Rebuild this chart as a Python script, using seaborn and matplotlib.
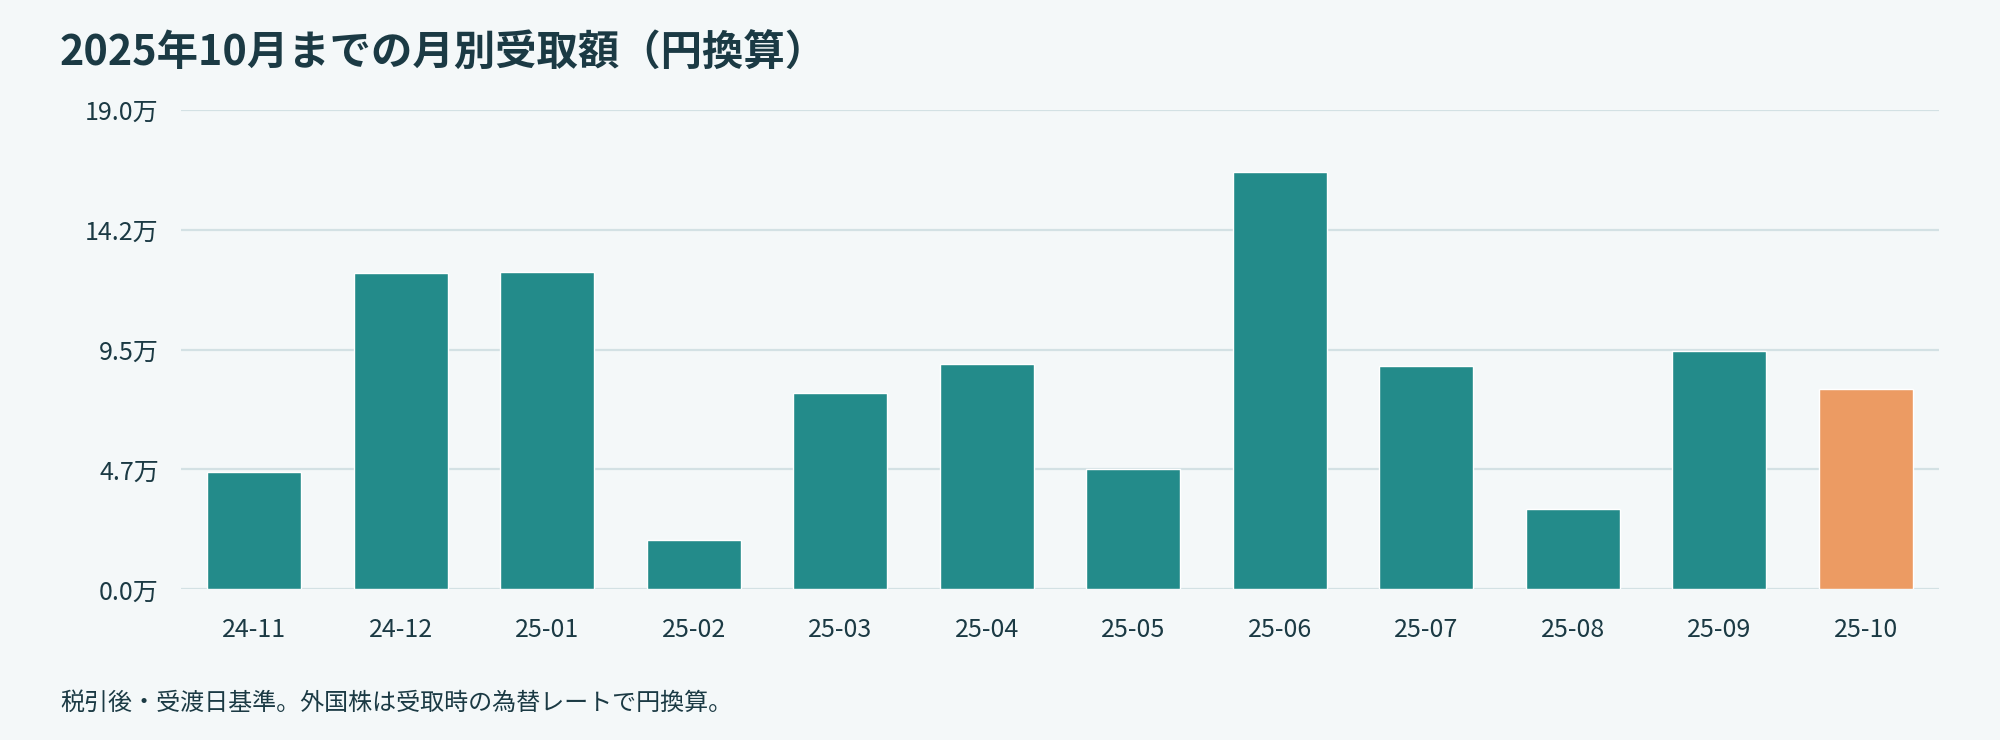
import matplotlib
matplotlib.use("Agg")
import matplotlib.pyplot as plt
import seaborn as sns
import pandas as pd

# ---- data ----
months = ["24-11", "24-12", "25-01", "25-02", "25-03", "25-04",
          "25-05", "25-06", "25-07", "25-08", "25-09", "25-10"]
amounts_man = [4.65, 12.53, 12.58, 1.97, 7.78, 8.94,
               4.75, 16.52, 8.84, 3.18, 9.45, 7.93]
bar_colors = ["#238b8a"] * 11 + ["#ec9b63"]
y_ticks = [0.0, 4.75, 9.5, 14.25, 19.0]
y_tick_labels = ["0.0万", "4.7万", "9.5万", "14.2万", "19.0万"]
title_text = "2025年10月までの月別受取額（円換算）"
note_text = "税引後・受渡日基準。外国株は受取時の為替レートで円換算。"

BG = "#f4f8f9"
TEXT = "#1b3a44"
GRID = "#d3e1e4"

sns.set_theme(style="white")
plt.rcParams["font.family"] = ["Noto Sans CJK JP", "DejaVu Sans"]

df = pd.DataFrame({"month": months, "amount": amounts_man})

fig = plt.figure(figsize=(20, 7.4), dpi=100, facecolor=BG)
ax = fig.add_axes([0.0905, 0.2036, 0.879, 0.648])
ax.set_facecolor(BG)

ax.set_axisbelow(True)
ax.yaxis.grid(True, color=GRID, linewidth=1.6)
ax.xaxis.grid(False)

sns.barplot(data=df, x="month", y="amount", hue="month",
            palette=bar_colors, width=0.64, legend=False,
            saturation=1, ax=ax, zorder=2)

ax.set_xlim(-0.5, len(months) - 0.5)
ax.set_ylim(0, 19.0)
ax.set_yticks(y_ticks)
ax.set_yticklabels(y_tick_labels)
ax.set_xlabel("")
ax.set_ylabel("")
for s in ax.spines.values():
    s.set_visible(False)
ax.tick_params(axis="both", length=0, colors=TEXT, labelsize=18)
ax.tick_params(axis="x", pad=20)
ax.tick_params(axis="y", pad=16)

fig.text(0.03, 0.911, title_text, fontsize=29.8, fontweight="bold",
         color=TEXT, ha="left", va="baseline")
fig.text(0.03, 0.0405, note_text, fontsize=17.3, color=TEXT,
         ha="left", va="baseline")

fig.savefig("out.png", dpi=100, facecolor=BG)
